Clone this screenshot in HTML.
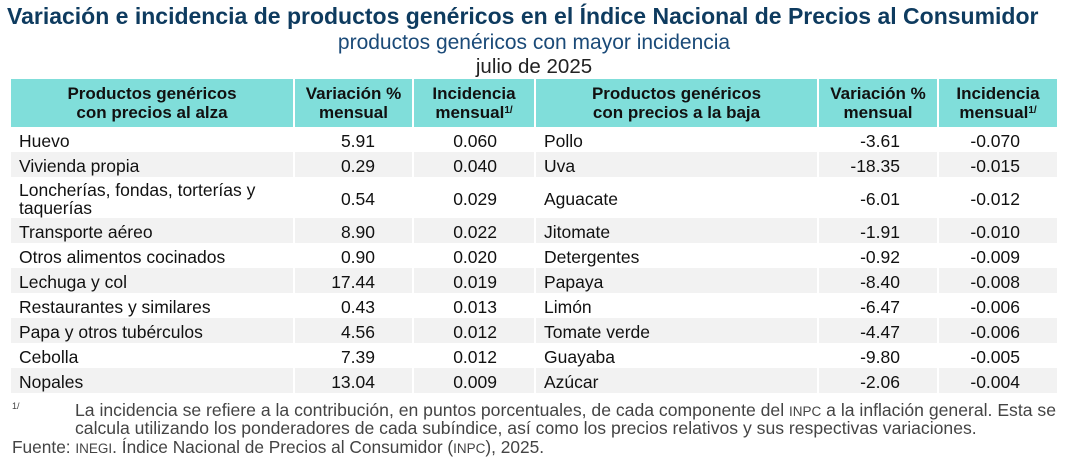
<!DOCTYPE html>
<html><head><meta charset="utf-8"><style>
body{margin:0;width:1068px;height:459px;background:#fff;font-family:"Liberation Sans",Arial,sans-serif;position:relative;overflow:hidden}
.t{position:absolute;left:0;width:1068px;text-align:center;white-space:nowrap}
table{position:absolute;left:9px;top:79px;border-collapse:collapse;width:1048px;table-layout:fixed;font-size:17.5px;color:#111}
th{background:#80deda;font-weight:bold;font-size:17px;height:48px;padding:0;line-height:19px;border-left:2px solid #fff;border-right:2px solid #fff}
th sup{font-size:10px;vertical-align:top;position:relative;top:-2px}
td{padding:2px 0 0 0;height:23px;line-height:18px;border-left:2px solid #fff;border-right:2px solid #fff}
tr.g td{background:#f2f2f2}
td.n{text-align:left;padding-left:8px}
td.v{text-align:right;padding-right:37px}
.f{position:absolute;font-size:17.6px;color:#444;line-height:17px;white-space:nowrap}
.sc{font-size:13.5px}
</style></head><body>
<div style="position:absolute;left:7px;top:3px;font-size:23px;font-weight:bold;color:#0e3b5f;white-space:nowrap">Variación e incidencia de productos genéricos en el Índice Nacional de Precios al Consumidor</div>
<div class="t" style="top:31px;font-size:21px;color:#1a4a78">productos genéricos con mayor incidencia</div>
<div class="t" style="top:55px;font-size:20.5px;color:#222">julio de 2025</div>
<table>
<colgroup><col style="width:284px"><col style="width:119px"><col style="width:122px"><col style="width:283px"><col style="width:120px"><col style="width:120px"></colgroup>
<tr><th>Productos genéricos<br>con precios al alza</th><th>Variación %<br>mensual</th><th>Incidencia<br>mensual<sup>1/</sup></th><th>Productos genéricos<br>con precios a la baja</th><th>Variación %<br>mensual</th><th>Incidencia<br>mensual<sup>1/</sup></th></tr>
<tr><td class="n">Huevo</td><td class="v">5.91</td><td class="v">0.060</td><td class="n">Pollo</td><td class="v">-3.61</td><td class="v">-0.070</td></tr>
<tr class="g"><td class="n">Vivienda propia</td><td class="v">0.29</td><td class="v">0.040</td><td class="n">Uva</td><td class="v">-18.35</td><td class="v">-0.015</td></tr>
<tr><td class="n" style="height:39px">Loncherías, fondas, torterías y<br>taquerías</td><td class="v">0.54</td><td class="v">0.029</td><td class="n">Aguacate</td><td class="v">-6.01</td><td class="v">-0.012</td></tr>
<tr class="g"><td class="n">Transporte aéreo</td><td class="v">8.90</td><td class="v">0.022</td><td class="n">Jitomate</td><td class="v">-1.91</td><td class="v">-0.010</td></tr>
<tr><td class="n">Otros alimentos cocinados</td><td class="v">0.90</td><td class="v">0.020</td><td class="n">Detergentes</td><td class="v">-0.92</td><td class="v">-0.009</td></tr>
<tr class="g"><td class="n">Lechuga y col</td><td class="v">17.44</td><td class="v">0.019</td><td class="n">Papaya</td><td class="v">-8.40</td><td class="v">-0.008</td></tr>
<tr><td class="n">Restaurantes y similares</td><td class="v">0.43</td><td class="v">0.013</td><td class="n">Limón</td><td class="v">-6.47</td><td class="v">-0.006</td></tr>
<tr class="g"><td class="n">Papa y otros tubérculos</td><td class="v">4.56</td><td class="v">0.012</td><td class="n">Tomate verde</td><td class="v">-4.47</td><td class="v">-0.006</td></tr>
<tr><td class="n">Cebolla</td><td class="v">7.39</td><td class="v">0.012</td><td class="n">Guayaba</td><td class="v">-9.80</td><td class="v">-0.005</td></tr>
<tr class="g"><td class="n">Nopales</td><td class="v">13.04</td><td class="v">0.009</td><td class="n">Azúcar</td><td class="v">-2.06</td><td class="v">-0.004</td></tr>
</table>
<div class="f" style="left:12px;top:398px;font-size:9px">1/</div>
<div class="f" style="left:75px;top:402px">La incidencia se refiere a la contribución, en puntos porcentuales, de cada componente del <span class="sc">INPC</span> a la inflación general. Esta se<br>calcula utilizando los ponderadores de cada subíndice, así como los precios relativos y sus respectivas variaciones.</div>
<div class="f" style="left:12px;top:439px;font-size:17.3px">Fuente: <span class="sc">INEGI</span>. Índice Nacional de Precios al Consumidor (<span class="sc">INPC</span>), 2025.</div>
</body></html>
